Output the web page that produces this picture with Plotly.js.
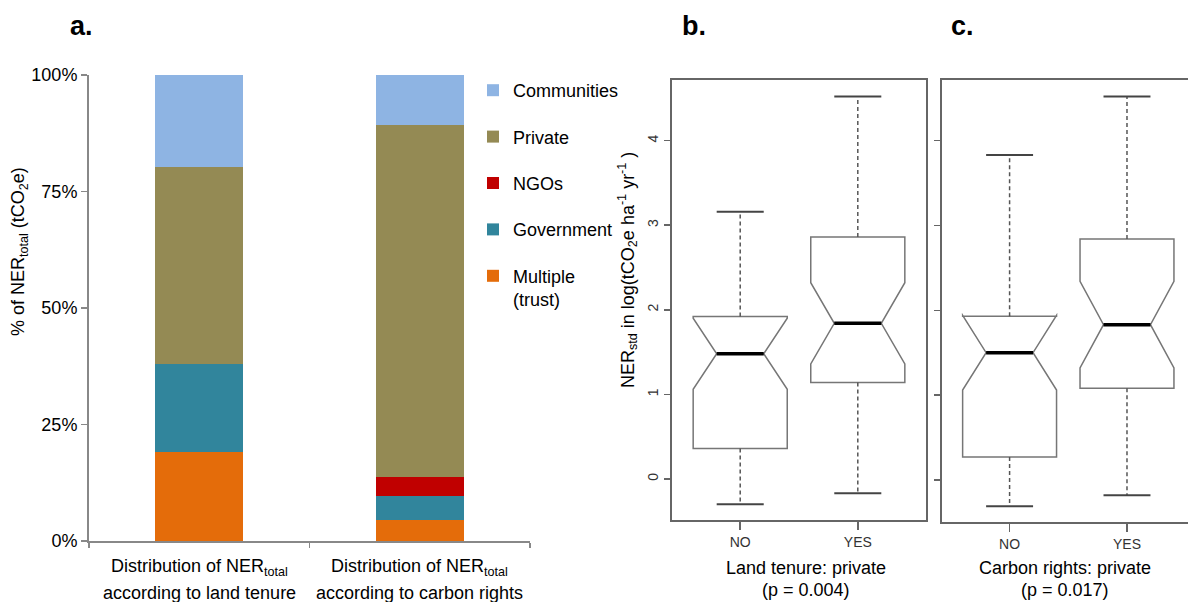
<!DOCTYPE html>
<html>
<head>
<meta charset="utf-8">
<script src="https://cdn.plot.ly/plotly-3.0.1.min.js"></script>
<style>
  html, body { margin: 0; padding: 0; background: #ffffff; }
  #chart { width: 1188px; height: 602px; }
</style>
</head>
<body>
<div id="chart"></div>
<script>
// ---- Panel a: share of total emission reductions by owner type ----
const distCategories = ['land tenure', 'carbon rights'];
const distLine1 = ['Distribution of NER<sub>total</sub>', 'Distribution of NER<sub>total</sub>'];
const distLine2 = ['according to land tenure', 'according to carbon rights'];
const ownerNames = ['Multiple<br>(trust)', 'Government', 'NGOs', 'Private', 'Communities'];
const shareMultiple    = [19.1, 4.6];
const shareGovernment  = [18.9, 5.0];
const shareNGOs        = [0.0, 4.1];
const sharePrivate     = [42.3, 75.6];
const shareCommunities = [19.7, 10.7];
const ownerColors = ['#E46C0A', '#31859C', '#C00000', '#948A54', '#8EB4E3'];
const percentTicks = [0, 25, 50, 75, 100];

// ---- Panels b and c: NER_std (log scale) summary statistics ----
const groupLabels = ['NO', 'YES'];
const logTicks = [0, 1, 2, 3, 4];

// b. land tenure: private
const landLow   = [-0.30, -0.17];
const landQ1    = [0.36, 1.14];
const landMed   = [1.48, 1.84];
const landQ3    = [1.92, 2.86];
const landHigh  = [3.16, 4.52];
const landNotch = [0.42, 0.48];

// c. carbon rights: private
const carbonLow   = [-0.31, -0.18];
const carbonQ1    = [0.27, 1.08];
const carbonMed   = [1.50, 1.83];
const carbonQ3    = [1.93, 2.84];
const carbonHigh  = [3.83, 4.52];
const carbonNotch = [0.44, 0.51];

const FONT = 'Liberation Sans, Arial, Helvetica, sans-serif';
const W = 1188, H = 602;
const px = v => v / W;
const py = v => 1 - v / H;

const traces = [];

// stacked bars; the legend lists the top segment first
const shareSeries = [shareMultiple, shareGovernment, shareNGOs, sharePrivate, shareCommunities];
shareSeries.forEach((vals, i) => {
  traces.push({
    type: 'bar',
    x: distCategories,
    y: vals,
    name: ownerNames[i],
    legendgroup: 'g' + i,
    legendrank: 1000 - i,
    width: 0.4,
    marker: { color: ownerColors[i], line: { width: 0 } },
    xaxis: 'x', yaxis: 'y',
    hoverinfo: 'skip'
  });
});

// notched boxes with dashed whiskers, drawn from the summary arrays
function addBoxes(low, q1, med, q3, high, notch, xa, ya) {
  const pos = groupLabels.map((_, i) => i + 1);
  const half = 0.4;      // half box width
  const capHalf = 0.2;   // half staple width
  traces.push({
    type: 'box',
    x: pos,
    q1: q1, median: med, q3: q3,
    lowerfence: q1, upperfence: q3,
    notchspan: notch,
    notched: true, notchwidth: 0.25,
    width: 2 * half,
    whiskerwidth: 0,
    boxpoints: false,
    fillcolor: 'rgba(255,255,255,0)',
    line: { color: '#767676', width: 1.5 },
    xaxis: xa, yaxis: ya,
    showlegend: false, hoverinfo: 'skip'
  });
  const wx = [], wy = [], cx = [], cy = [], mx = [], my = [];
  pos.forEach((p, i) => {
    wx.push(p, p, null, p, p, null);
    wy.push(q3[i], high[i], null, q1[i], low[i], null);
    cx.push(p - capHalf, p + capHalf, null, p - capHalf, p + capHalf, null);
    cy.push(high[i], high[i], null, low[i], low[i], null);
    mx.push(p - half / 2, p + half / 2, null);
    my.push(med[i], med[i], null);
  });
  traces.push({
    type: 'scatter', mode: 'lines', x: wx, y: wy,
    line: { color: '#555555', width: 1.5, dash: '4px,3px' },
    xaxis: xa, yaxis: ya, showlegend: false, hoverinfo: 'skip', cliponaxis: false
  });
  traces.push({
    type: 'scatter', mode: 'lines', x: cx, y: cy,
    line: { color: '#444444', width: 2 },
    xaxis: xa, yaxis: ya, showlegend: false, hoverinfo: 'skip', cliponaxis: false
  });
  traces.push({
    type: 'scatter', mode: 'lines', x: mx, y: my,
    line: { color: '#000000', width: 3.5 },
    xaxis: xa, yaxis: ya, showlegend: false, hoverinfo: 'skip'
  });
}
addBoxes(landLow, landQ1, landMed, landQ3, landHigh, landNotch, 'x2', 'y2');
addBoxes(carbonLow, carbonQ1, carbonMed, carbonQ3, carbonHigh, carbonNotch, 'x3', 'y3');

const boxAxisX = {
  tickvals: [1, 2], ticktext: groupLabels,
  ticks: 'outside', ticklen: 8, tickwidth: 1.5, tickcolor: '#666666',
  showline: true, mirror: true, linecolor: '#666666', linewidth: 2,
  showgrid: false, zeroline: false,
  tickfont: { family: FONT, size: 14, color: '#333333' }
};
const boxAxisY = {
  tickvals: logTicks,
  tickangle: -90,
  ticks: 'outside', ticklen: 6, tickwidth: 1.5, tickcolor: '#666666',
  showline: true, linecolor: '#666666', linewidth: 2,
  showgrid: false, zeroline: false,
  tickfont: { family: FONT, size: 14, color: '#333333' }
};

function note(text, x, y, size, extra) {
  return Object.assign({
    text: text, x: x, y: y, xref: 'paper', yref: 'paper',
    xanchor: 'center', yanchor: 'middle', showarrow: false,
    font: { family: FONT, size: size, color: '#000000' }
  }, extra || {});
}

const annotations = [
  note('<b>a.</b>', px(81), py(26), 27),
  note('<b>b.</b>', px(694), py(26), 27),
  note('<b>c.</b>', px(963), py(26), 27),
  note('% of NER<sub>total</sub> (tCO<sub>2</sub>e)', px(19), py(252), 18, { textangle: -90 }),
  note('NER<sub>std</sub> in log(tCO<sub>2</sub>e ha<sup>-1</sup> yr<sup>-1</sup> )', px(628), py(270), 18, { textangle: -90 }),
  note('Land tenure: private', px(806), py(568), 18),
  note('(p = 0.004)', px(806), py(590), 18),
  note('Carbon rights: private', px(1065), py(568), 18),
  note('(p = 0.017)', px(1065), py(590), 18)
];
// two-line category captions under the bars
distCategories.forEach((c, i) => {
  annotations.push(note(distLine1[i], c, py(567), 18, { xref: 'x' }));
  annotations.push(note(distLine2[i], c, py(593), 18, { xref: 'x' }));
});

const layout = {
  width: W, height: H,
  margin: { l: 0, r: 0, t: 0, b: 0 },
  paper_bgcolor: '#ffffff', plot_bgcolor: 'rgba(0,0,0,0)',
  font: { family: FONT, color: '#000000' },
  barmode: 'stack',
  showlegend: true,
  legend: {
    x: px(473), y: py(72), xanchor: 'left', yanchor: 'top',
    traceorder: 'grouped',
    font: { family: FONT, size: 18, color: '#000000' },
    tracegroupgap: 20,
    valign: 'top',
    itemwidth: 30,
    bgcolor: 'rgba(0,0,0,0)'
  },
  xaxis: {
    domain: [px(89), px(530)],
    type: 'category',
    range: [-0.5, 1.5],
    tickson: 'boundaries',
    ticks: 'outside', ticklen: 5, tickwidth: 1.5, tickcolor: '#888888',
    showticklabels: false,
    showline: true, linecolor: '#888888', linewidth: 2,
    showgrid: false, zeroline: false,
    anchor: 'y'
  },
  yaxis: {
    domain: [py(541), py(75)],
    range: [0, 100],
    tickvals: percentTicks,
    ticktext: percentTicks.map(v => v + '%'),
    ticks: 'outside', ticklen: 6, tickwidth: 1.5, tickcolor: '#888888',
    showline: true, linecolor: '#888888', linewidth: 2,
    showgrid: false, zeroline: false,
    tickfont: { family: FONT, size: 18, color: '#000000' },
    anchor: 'x'
  },
  xaxis2: Object.assign({}, boxAxisX, {
    domain: [px(672), px(926)], range: [0.42, 2.58], anchor: 'y2'
  }),
  yaxis2: Object.assign({}, boxAxisY, {
    domain: [py(520), py(79.5)], range: [-0.485, 4.722], mirror: true, anchor: 'x2'
  }),
  xaxis3: Object.assign({}, boxAxisX, {
    domain: [px(941.5), 1], range: [0.42, 0.42 + (1188 - 941.5) / 117.4], anchor: 'y3'
  }),
  yaxis3: Object.assign({}, boxAxisY, {
    domain: [py(521.7), py(79.5)], range: [-0.492, 4.72], showticklabels: false, anchor: 'x3'
  }),
  annotations: annotations
};

Plotly.newPlot('chart', traces, layout, { displayModeBar: false, staticPlot: true });
</script>
</body>
</html>
